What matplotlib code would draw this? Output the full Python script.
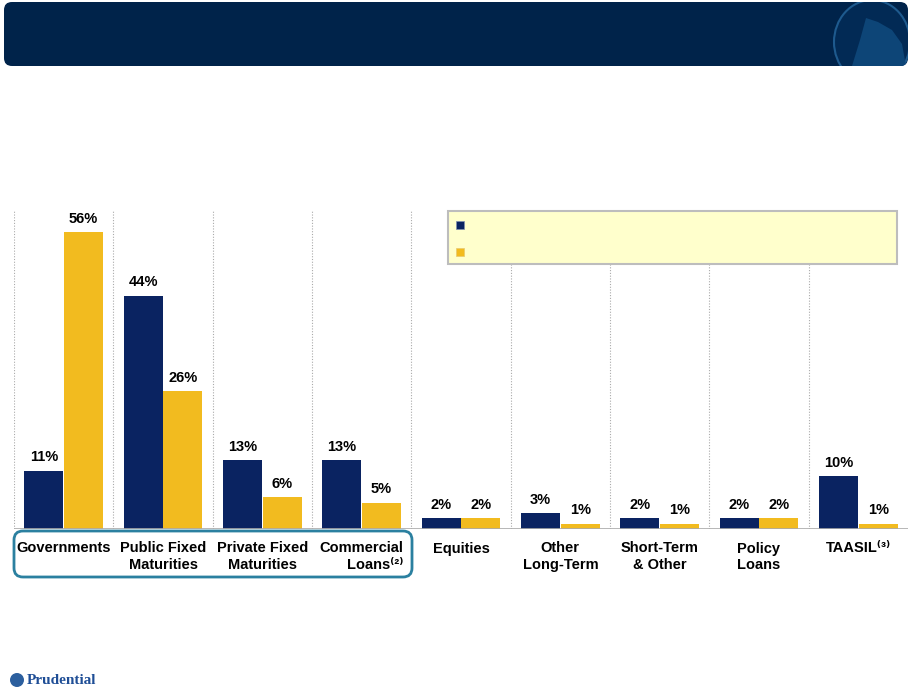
import matplotlib.pyplot as plt
from matplotlib.patches import FancyBboxPatch, Rectangle, Ellipse, Polygon, Circle

plt.rcParams['font.family'] = ['Liberation Sans', 'DejaVu Sans']

categories = ['Governments', 'Public Fixed\nMaturities', 'Private Fixed\nMaturities',
              'Commercial\nLoans\u207d\u00b2\u207e', 'Equities', 'Other\nLong-Term',
              'Short-Term\n& Other', 'Policy\nLoans', 'TAASIL\u207d\u00b3\u207e']
series_a = [11, 44, 13, 13, 2, 3, 2, 2, 10]
series_b = [56, 26, 6, 5, 2, 1, 1, 2, 1]

navy = '#0A2361'
gold = '#F2BB1F'

fig = plt.figure(figsize=(9.13, 6.93), dpi=100)
W, H = 913, 693

# main chart area
ax = fig.add_axes([14 / W, 1 - 529 / H, 894 / W, 319 / H])
x = list(range(len(categories)))
bw = 0.39
ax.bar([i - 0.2 for i in x], series_a, width=bw, color=navy, zorder=3)
ax.bar([i + 0.2 for i in x], series_b, width=bw, color=gold, zorder=3)
for i in x:
    ax.text(i - 0.2, series_a[i] + 1.2, f'{series_a[i]}%', ha='center', va='bottom',
            fontsize=10.5, fontweight='bold')
    ax.text(i + 0.2, series_b[i] + 1.2, f'{series_b[i]}%', ha='center', va='bottom',
            fontsize=10.5, fontweight='bold')
for b in range(len(categories)):
    ax.axvline(b - 0.5, color='#AAAAAA', lw=0.8, ls=(0, (1, 1.5)), zorder=1)
ax.axhline(0, color='#AAAAAA', lw=1.2, zorder=4)
ax.set_xlim(-0.5, 8.5)
ax.set_ylim(0, 60.2)
ax.set_xticks(x)
ax.set_xticklabels(categories, fontsize=10.5, fontweight='bold', linespacing=1.2)
for t in ax.get_xticklabels():
    if t.get_text().startswith('Commercial'):
        t.set_multialignment('right')
ax.tick_params(axis='x', length=0, pad=9)
ax.set_yticks([])
for s in ax.spines.values():
    s.set_visible(False)

# decoration overlay in pixel coordinates
ov = fig.add_axes([0, 0, 1, 1], zorder=5)
ov.set_xlim(0, W)
ov.set_ylim(H, 0)
ov.axis('off')
ov.patch.set_alpha(0)

header = FancyBboxPatch((4, 2), 904, 64, boxstyle='round,pad=0,rounding_size=8',
                        facecolor='#00234A', edgecolor='none')
ov.add_patch(header)
logo = Ellipse((872, 42), 76, 84, facecolor='#022a55', edgecolor='#1E5A8E', lw=1.5)
ov.add_patch(logo)
logo.set_clip_path(header)
rock = Polygon([(852, 66), (860, 40), (866, 18), (878, 22), (892, 30), (902, 44), (906, 66)],
               closed=True, facecolor='#0D4577', edgecolor='none')
ov.add_patch(rock)
rock.set_clip_path(header)

legend_box = Rectangle((448, 211), 449, 53, facecolor='#FFFFCC', edgecolor='#BDBDBD', lw=1.5)
ov.add_patch(legend_box)
ov.add_patch(Rectangle((456, 221), 8, 8, facecolor=navy, edgecolor='#7F8FB0', lw=0.5))
ov.add_patch(Rectangle((456, 248), 8, 8, facecolor=gold, edgecolor='#E8C870', lw=0.5))

ov.add_patch(FancyBboxPatch((14, 531), 398, 46, boxstyle='round,pad=0,rounding_size=9',
                            facecolor='none', edgecolor='#2B80A0', lw=2))

ov.add_patch(Circle((17, 680), 7, facecolor='#2C5F9E', edgecolor='none'))
ov.text(27, 681, 'Prudential', fontsize=11, fontweight='bold', family='Liberation Serif',
        color='#1F4E96', va='center', ha='left')

fig.savefig('out.png', dpi=100)
